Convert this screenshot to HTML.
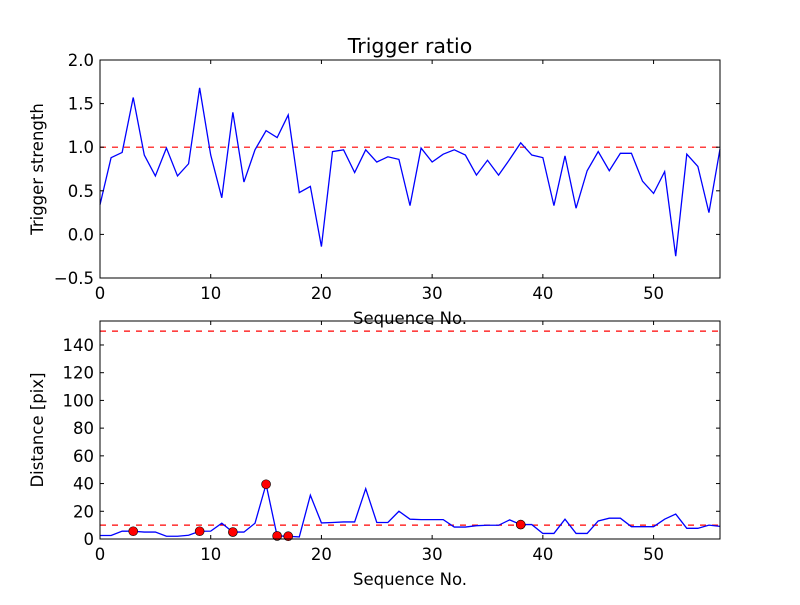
<!DOCTYPE html>
<html><head><meta charset="utf-8"><style>
body{margin:0;background:#fff;width:800px;height:600px;overflow:hidden}
svg text{font-family:"DejaVu Sans","Liberation Sans",sans-serif;fill:#000}
</style></head><body>
<svg id="chart" width="800" height="600"></svg>
<script>
const seqIdx = Array.from({length:57},(_,i)=>i);
const triggerStrength = [0.34,0.88,0.94,1.57,0.91,0.67,0.99,0.67,0.81,1.68,0.91,0.42,1.40,0.60,0.97,1.19,1.11,1.37,0.48,0.55,-0.14,0.95,0.97,0.71,0.97,0.83,0.89,0.86,0.33,0.99,0.83,0.92,0.97,0.91,0.68,0.85,0.68,0.86,1.05,0.91,0.88,0.33,0.90,0.30,0.73,0.95,0.73,0.93,0.93,0.61,0.47,0.72,-0.25,0.92,0.78,0.25,0.98];
const distance = [2.5,2.5,5.7,5.6,5,5,2,2,2.7,5.6,5.7,11.4,5,5,11.4,39.5,2.2,2,1.5,31.6,11.6,11.9,12.3,12.3,36.3,11.9,11.9,20,14.3,14,14,14,8.6,8.6,9.6,9.9,9.9,13.8,10.4,10.4,4,4,14.3,4,4,13,15,15,8.9,8.9,8.9,14.3,18,7.7,7.7,10,9.1];
const markedIdx = [3,9,12,15,16,17,38];
const topThreshold = 1.0;
const distThresholds = [10,150];
const xTicks = [0,10,20,30,40,50];
const topYTicks = [-0.5,0.0,0.5,1.0,1.5,2.0];
const botYTicks = [0,20,40,60,80,100,120,140];

const NS="http://www.w3.org/2000/svg";
const svg=document.getElementById('chart');
function mk(tag,attrs,parent){const e=document.createElementNS(NS,tag);for(const k in attrs)e.setAttribute(k,attrs[k]);(parent||svg).appendChild(e);return e;}
const X0=100,X1=720;
const xs=v=>X0+(v-0)/(56-0)*(X1-X0);
function panel(name,yTop,yBot,ymin,ymax,yTicks,fmt,ylabel,data,thresholds,marks,title){
  const ys=v=>yBot-(v-ymin)/(ymax-ymin)*(yBot-yTop);
  const g=mk('g',{});
  
  
  thresholds.forEach(t=>{const l=mk('line',{x1:X0,x2:X1,y1:ys(t),y2:ys(t),stroke:'#ff0000','stroke-width':1.2,'stroke-dasharray':'6,6'},g);
    
    });
  const p=mk('polyline',{points:data.map((v,i)=>xs(seqIdx[i])+','+ys(v)).join(' '),fill:'none',stroke:'#0000ff','stroke-width':1.3},g);
  
  
  marks.forEach(i=>{const c=mk('circle',{cx:xs(seqIdx[i]),cy:ys(data[i]),r:4.5,fill:'#ff0000',stroke:'#000','stroke-width':0.6},g);
    
    });
  const fr=mk('rect',{x:X0,y:yTop,width:X1-X0,height:yBot-yTop,fill:'none',stroke:'#000','stroke-width':1},g);
  
  
  xTicks.forEach(t=>{const x=xs(t);
    mk('line',{x1:x,x2:x,y1:yBot,y2:yBot-4,stroke:'#000'},g);mk('line',{x1:x,x2:x,y1:yTop,y2:yTop+4,stroke:'#000'},g);
    const tx=mk('text',{x:x,y:yBot+21,'text-anchor':'middle','font-size':16.5},g);tx.textContent=t;
    
    });
  yTicks.forEach(t=>{const y=ys(t);
    mk('line',{x1:X0,x2:X0+4,y1:y,y2:y,stroke:'#000'},g);mk('line',{x1:X1,x2:X1-4,y1:y,y2:y,stroke:'#000'},g);
    const tx=mk('text',{x:X0-6,y:y+6,'text-anchor':'end','font-size':16.5},g);tx.textContent=fmt(t);
    
    });
  const xl=mk('text',{x:(X0+X1)/2,y:yBot+46,'text-anchor':'middle','font-size':16.5},g);xl.textContent='Sequence No.';
  
  
  const yc=(yTop+yBot)/2;
  const yl=mk('text',{x:0,y:0,'text-anchor':'middle','font-size':16.5,transform:`translate(${X0-57},${yc}) rotate(-90)`},g);yl.textContent=ylabel;
  
  
  if(title){const tt=mk('text',{x:(X0+X1)/2,y:yTop-7,'text-anchor':'middle','font-size':20.5},g);tt.textContent=title;
    
    }
}
panel('trigger-panel',60,278,-0.5,2.0,topYTicks,t=>t.toFixed(1).replace('-','\u2212'),'Trigger strength',triggerStrength,[topThreshold],[],'Trigger ratio');
panel('distance-panel',321,539,0,157.3,botYTicks,t=>String(t),'Distance [pix]',distance,distThresholds,markedIdx,null);
</script>
</body></html>
